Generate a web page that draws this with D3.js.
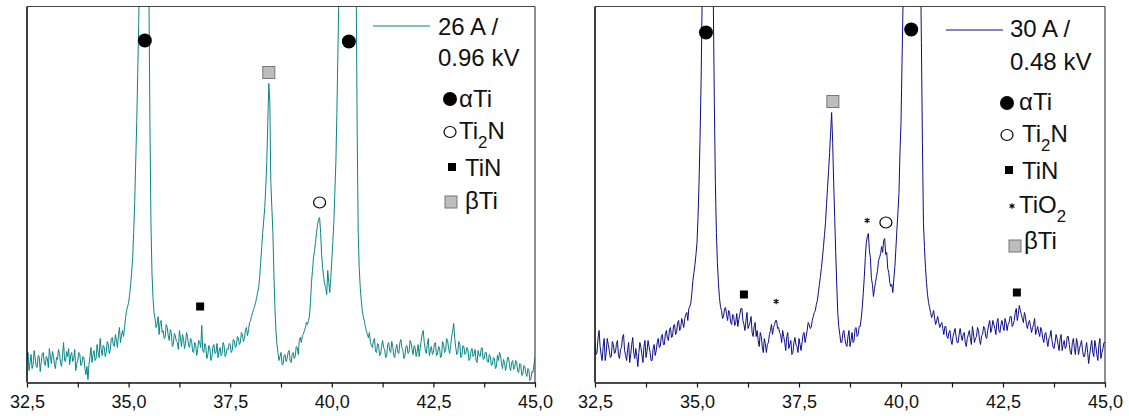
<!DOCTYPE html>
<html><head><meta charset="utf-8">
<script src="https://cdn.jsdelivr.net/npm/d3@7/dist/d3.min.js"></script>
<style>
body{margin:0;background:#fff;}
svg{display:block;font-family:"Liberation Sans",Arial,Helvetica,sans-serif;}
</style>
</head><body>
<svg id="chart" width="1129" height="416"></svg>
<script>
// ---- data ----
const thetaStart = 32.5, thetaStep = 0.025;         // 2θ grid (deg)
const xTicks = [32.5, 35, 37.5, 40, 42.5, 45];
const xMinorTicks = [33.75, 36.25, 38.75, 41.25, 43.75];
const yMax = 376;                                     // visible intensity (a.u.)

// 26 A / 0.96 kV  (intensity, a.u.), 32.5 .. 45.0 deg
const int26A = [
 22,30,12,20,28,14,18,32,25,16,15,27,26,11,20,29,30,19,17,26,
 24,15,34,26,19,31,27,18,14,25,23,33,29,20,16,27,40,22,21,31,
 26,34,18,27,30,21,24,33,12,19,22,30,28,17,19,26,25,14,8,16,
 3,18,26,35,20,28,32,22,24,38,30,25,44,33,27,37,35,26,30,41,
 38,29,33,44,45,37,36,48,42,35,48,55,40,47,52,46,55,65,72,76,
 80,88,98,110,125,150,180,220,260,310,360,440,520,650,800,880,950,860,720,560,
 390,260,160,110,85,70,64,55,58,66,48,60,62,50,52,44,45,58,55,47,
 42,53,50,36,38,49,47,41,40,33,52,45,36,48,44,34,39,50,46,37,
 35,44,42,31,30,40,38,27,33,42,40,35,57,32,30,39,36,24,28,37,
 34,22,26,36,38,29,30,39,25,31,35,27,29,40,37,26,28,34,33,39,
 38,30,32,43,42,35,36,46,45,38,40,50,48,41,44,53,55,47,52,60,
 62,66,70,73,76,80,85,90,95,105,120,135,150,162,175,195,220,260,299,280,
 200,175,150,110,75,52,38,30,22,26,30,18,18,27,28,21,24,30,32,22,
 20,28,30,24,26,36,35,28,42,45,40,47,48,52,55,60,58,62,66,80,
 100,112,125,132,140,150,158,163,165,150,128,115,105,98,95,88,112,100,90,105,
 122,140,160,190,220,270,330,390,460,550,650,750,850,900,950,970,980,970,950,900,
 850,760,640,520,400,250,150,115,95,82,72,66,62,56,52,48,45,50,40,37,
 35,42,44,31,30,39,38,27,28,36,42,35,33,25,26,38,40,32,30,41,
 36,27,25,34,38,30,29,40,43,35,32,24,27,36,37,29,30,42,40,33,
 28,37,35,26,31,38,26,34,42,49,52,40,33,29,38,44,27,32,36,28,
 30,39,40,27,28,36,35,25,26,41,38,30,32,44,42,34,29,37,46,52,
 59,44,35,28,30,41,38,25,27,37,36,28,29,35,33,22,24,31,34,26,
 28,33,22,20,32,27,26,34,35,23,24,30,30,21,20,28,26,17,18,25,
 24,14,16,27,22,30,28,19,14,23,20,12,18,25,25,16,12,20,22,13,
 15,22,20,11,10,19,18,7,8,17,16,9,6,14,12,2,4,11,10,18,
 25
];

// 30 A / 0.48 kV  (intensity, a.u.), 32.5 .. 45.0 deg
const int30A = [
 40,28,30,45,52,36,28,22,36,44,22,30,44,38,32,25,26,41,38,29,
 30,38,42,27,24,33,35,46,48,32,27,22,33,40,20,28,38,45,29,24,
 34,26,16,30,40,35,28,20,36,42,25,31,42,36,30,22,22,34,38,27,
 32,40,44,35,36,46,48,38,38,49,52,44,42,53,55,45,46,57,58,48,
 50,60,62,52,54,64,60,55,64,68,70,62,74,76,80,90,102,110,118,128,
 140,165,200,245,300,380,480,600,750,830,900,910,880,780,620,500,380,280,200,150,
 120,100,85,76,72,64,66,74,75,68,62,72,70,60,58,68,66,57,60,69,
 56,63,68,74,74,62,58,52,62,70,54,57,60,66,50,46,56,60,46,52,
 42,36,50,46,36,30,44,39,30,38,40,48,52,58,48,55,58,62,62,54,
 55,50,48,40,52,46,40,32,46,50,34,38,42,28,30,40,45,38,36,30,
 44,38,32,40,48,50,40,46,52,60,58,54,55,62,66,70,72,78,82,90,
 98,106,115,125,136,148,160,178,195,212,230,250,270,240,200,165,130,98,70,56,
 48,40,40,50,52,44,38,36,46,52,36,42,50,40,42,54,55,46,48,56,
 56,64,75,89,105,125,140,146,149,132,125,104,98,86,94,100,106,112,122,125,
 129,136,130,142,144,128,130,114,110,100,96,98,90,104,116,134,153,170,190,230,
 260,320,380,500,620,720,800,860,900,930,950,940,900,870,820,760,700,610,520,430,
 340,240,160,135,115,100,88,80,75,70,65,68,72,64,58,62,66,60,55,58,
 60,54,48,56,56,46,44,50,52,42,38,46,50,54,46,40,40,48,54,47,
 42,48,50,40,36,44,48,52,44,38,56,50,40,44,46,55,52,42,38,47,
 48,56,55,46,44,52,58,62,50,54,62,58,54,48,60,64,52,50,58,62,
 56,52,64,60,52,58,60,66,66,56,58,62,70,74,62,68,77,72,68,64,
 60,70,66,58,54,60,62,56,50,55,58,64,48,52,56,50,46,55,52,44,
 40,48,50,42,36,44,46,52,42,36,34,40,48,44,38,32,44,48,32,38,
 42,34,36,46,46,38,30,28,40,44,34,28,44,40,28,34,38,42,32,26,
 26,34,40,30,19,28,36,42,30,26,42,36,28,22,38,44,24,30,34,40,
 40
];

// peak identification markers: phase, 2θ, intensity
const markers26A = [
 {phase:"aTi",  theta:35.40, h:342},
 {phase:"aTi",  theta:40.42, h:341},
 {phase:"bTi",  theta:38.45, h:310},
 {phase:"Ti2N", theta:39.70, h:180},
 {phase:"TiN",  theta:36.76, h:76}
];
const markers30A = [
 {phase:"aTi",  theta:35.22, h:350},
 {phase:"aTi",  theta:40.25, h:353},
 {phase:"bTi",  theta:38.33, h:281},
 {phase:"TiN",  theta:36.15, h:88},
 {phase:"TiO2", theta:36.94, h:81},
 {phase:"TiO2", theta:39.17, h:162},
 {phase:"Ti2N", theta:39.63, h:160},
 {phase:"TiN",  theta:42.84, h:90}
];

const seriesLabels = [["26 A /","0.96 kV"],["30 A /","0.48 kV"]];
const legend26A = [["aTi","αTi"],["Ti2N","Ti_2N"],["TiN","TiN"],["bTi","βTi"]];
const legend30A = [["aTi","αTi"],["Ti2N","Ti_2N"],["TiN","TiN"],["TiO2","TiO_2"],["bTi","βTi"]];

// ---- drawing ----
const svg = d3.select("#chart");
const yTop = 6.5, yBottom = 382.5;
const legendFont = 24;

const panels = [
 {id:"p0", x0:27, x1:535, values:int26A, color:"#0a8585", markers:markers26A, label:seriesLabels[0], legend:legend26A,
  lg:{lineX:[373,430], lineY:26, textX:438, textY:[35,66], symX:[450,450,452,451], textX2:[459,459,465,465], rowY:[99,132,167,202], baseY:[107,139,176,209]}},
 {id:"p1", x0:595, x1:1105, values:int30A, color:"#0d0d8a", markers:markers30A, label:seriesLabels[1], legend:legend30A,
  lg:{lineX:[946,1003], lineY:30, textX:1010, textY:[37,70], symX:[1007,1007,1009,1012,1015], textX2:[1019,1022,1022,1019,1024], rowY:[103,135,170,206,246], baseY:[110,142,179,213,249]}}
];

function drawSymbol(g, type, cx, cy){
  if(type==="aTi"){
    g.append("circle").attr("cx",cx).attr("cy",cy).attr("r",7).attr("fill","#000");
  } else if(type==="Ti2N"){
    g.append("ellipse").attr("cx",cx).attr("cy",cy).attr("rx",6).attr("ry",5.5).attr("fill","#fff").attr("stroke","#000").attr("stroke-width",1.2);
  } else if(type==="TiN"){
    g.append("rect").attr("x",cx-4).attr("y",cy-4).attr("width",8).attr("height",8).attr("fill","#000");
  } else if(type==="bTi"){
    g.append("rect").attr("x",cx-6).attr("y",cy-6).attr("width",12).attr("height",12).attr("fill","#bdbdbd").attr("stroke","#777").attr("stroke-width",1);
  } else if(type==="TiO2"){
    const sym = d3.symbolAsterisk || d3.symbolCross;
    g.append("path").attr("transform",`translate(${cx},${cy})`).attr("d",d3.symbol().type(sym).size(22)())
      .attr("fill","none").attr("stroke","#000").attr("stroke-width",1.1);
  }
}

function writeLabel(t, str, fs){
  const parts = str.split(/_(\d)/);
  parts.forEach((s,i)=>{
    if(!s) return;
    if(i%2===1){
      t.append("tspan").attr("dy",9).attr("font-size",fs*0.7).text(s);
    } else {
      const ts = t.append("tspan").text(s);
      if(i>0) ts.attr("dy",-9);
    }
  });
}

panels.forEach(p=>{
  const x = d3.scaleLinear().domain([32.5,45]).range([p.x0,p.x1]);
  const y = d3.scaleLinear().domain([0,yMax]).range([yBottom,yTop]);
  const g = svg.append("g");

  g.append("clipPath").attr("id","clip-"+p.id).append("rect")
    .attr("x",p.x0).attr("y",yTop).attr("width",p.x1-p.x0).attr("height",yBottom-yTop);

  const pts = p.values.map((v,i)=>[thetaStart+i*thetaStep, v]);
  g.append("path").datum(pts).attr("clip-path",`url(#clip-${p.id})`)
    .attr("d", d3.line().x(d=>x(d[0])).y(d=>y(d[1])))
    .attr("fill","none").attr("stroke",p.color).attr("stroke-width",1).attr("stroke-linejoin","round");

  // frame
  g.append("line").attr("x1",p.x0).attr("x2",p.x1).attr("y1",yTop).attr("y2",yTop).attr("stroke","#444").attr("stroke-width",1.2);
  g.append("line").attr("x1",p.x1).attr("x2",p.x1).attr("y1",yTop).attr("y2",yBottom).attr("stroke","#444").attr("stroke-width",1.2);
  g.append("line").attr("x1",p.x0).attr("x2",p.x0).attr("y1",yTop).attr("y2",yBottom).attr("stroke","#111").attr("stroke-width",1.6);

  // axes
  const fmt = d => d3.format(".1f")(d).replace(".",",");
  const ax = g.append("g").attr("transform",`translate(0,${yBottom})`)
    .call(d3.axisBottom(x).tickValues(xTicks).tickFormat(fmt).tickSize(5).tickSizeOuter(0).tickPadding(8));
  ax.select(".domain").attr("stroke","#111").attr("stroke-width",1.6);
  ax.selectAll(".tick line").attr("stroke","#111").attr("stroke-width",1.2);
  ax.selectAll("text").attr("font-size",18).attr("fill","#111").attr("font-family","'Liberation Sans',Arial,sans-serif");
  const axm = g.append("g").attr("transform",`translate(0,${yBottom})`)
    .call(d3.axisBottom(x).tickValues(xMinorTicks).tickFormat("").tickSize(5).tickSizeOuter(0));
  axm.select(".domain").remove();
  axm.selectAll(".tick line").attr("stroke","#111").attr("stroke-width",1.2);

  // peak markers
  const mg = g.append("g");
  p.markers.forEach(m=>drawSymbol(mg, m.phase, x(m.theta), y(m.h)));

  // legend
  const lg = p.lg;
  g.append("line").attr("x1",lg.lineX[0]).attr("x2",lg.lineX[1]).attr("y1",lg.lineY).attr("y2",lg.lineY)
    .attr("stroke",p.color).attr("stroke-width",1.2);
  p.label.forEach((s,i)=>{
    g.append("text").attr("x",lg.textX).attr("y",lg.textY[i]).attr("font-size",legendFont).attr("fill","#111").text(s);
  });
  p.legend.forEach((e,i)=>{
    drawSymbol(g, e[0], lg.symX[i], lg.rowY[i]);
    const t = g.append("text").attr("x",lg.textX2[i]).attr("y",lg.baseY[i]).attr("font-size",legendFont).attr("fill","#111");
    writeLabel(t, e[1], legendFont);
  });
});
</script>
</body></html>
